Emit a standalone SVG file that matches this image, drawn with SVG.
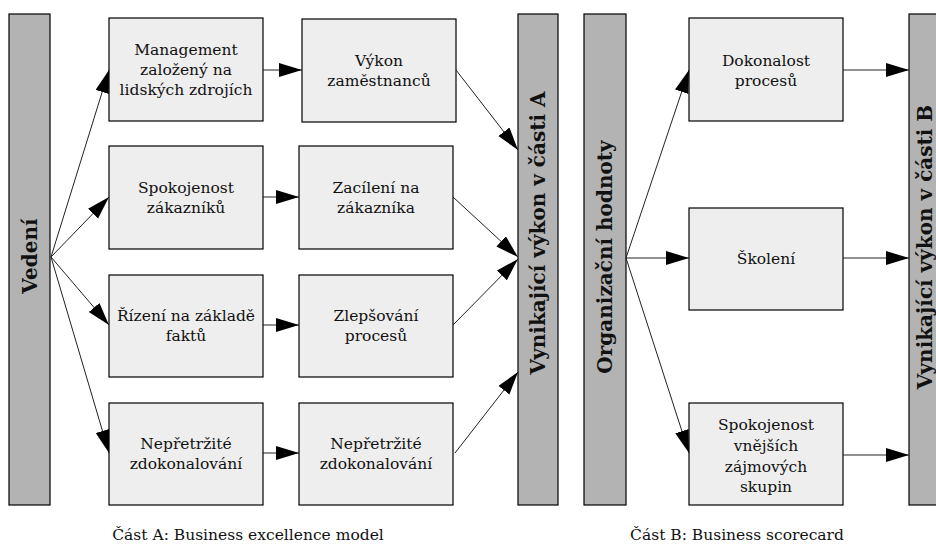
<svg xmlns="http://www.w3.org/2000/svg" width="936" height="546" viewBox="0 0 936 546">
  <style>
    .bar { fill: #b3b3b3; stroke: #000; stroke-width: 1.2; }
    .box { fill: #eeeeee; stroke: #000; stroke-width: 1.2; }
    .bt { font-family: "DejaVu Serif", "Liberation Serif", serif; font-size: 15.5px; fill: #111; text-anchor: middle; }
    .vt { font-family: "DejaVu Serif", "Liberation Serif", serif; font-size: 20px; font-weight: bold; fill: #111; text-anchor: middle; }
    .cap { font-family: "DejaVu Serif", "Liberation Serif", serif; font-size: 15.5px; fill: #111; text-anchor: middle; }
    .con line { stroke: #222; stroke-width: 1; fill: none; marker-end: url(#ah); }
  </style>
  <defs>
    <marker id="ah" markerUnits="userSpaceOnUse" markerWidth="24" markerHeight="16" refX="23" refY="7" orient="auto">
      <path d="M0,0 L23,7 L0,14 Z" fill="#000"/>
    </marker>
  </defs>
  <rect width="936" height="546" fill="#fff"/>

  <!-- Part A -->
  <g id="vedeni">
    <rect class="bar" x="9" y="14" width="41" height="491"/>
    <text class="vt" transform="translate(37,256) rotate(-90)">Vedení</text>
  </g>

  <g id="a1">
    <rect class="box" x="109" y="18" width="154" height="103"/>
    <text class="bt" x="186" y="55">Management</text>
    <text class="bt" x="186" y="75">založený na</text>
    <text class="bt" x="186" y="95">lidských zdrojích</text>
  </g>
  <g id="a2">
    <rect class="box" x="109" y="146" width="154" height="103"/>
    <text class="bt" x="186" y="193">Spokojenost</text>
    <text class="bt" x="186" y="213">zákazníků</text>
  </g>
  <g id="a3">
    <rect class="box" x="109" y="275" width="154" height="102"/>
    <text class="bt" x="186" y="321">Řízení na základě</text>
    <text class="bt" x="186" y="341">faktů</text>
  </g>
  <g id="a4">
    <rect class="box" x="109" y="403" width="154" height="102"/>
    <text class="bt" x="186" y="449">Nepřetržité</text>
    <text class="bt" x="186" y="469">zdokonalování</text>
  </g>

  <g id="b1">
    <rect class="box" x="302" y="19" width="154" height="103"/>
    <text class="bt" x="379" y="66">Výkon</text>
    <text class="bt" x="379" y="86">zaměstnanců</text>
  </g>
  <g id="b2">
    <rect class="box" x="299" y="146" width="154" height="103"/>
    <text class="bt" x="376" y="193">Zacílení na</text>
    <text class="bt" x="376" y="213">zákazníka</text>
  </g>
  <g id="b3">
    <rect class="box" x="299" y="275" width="154" height="102"/>
    <text class="bt" x="376" y="321">Zlepšování</text>
    <text class="bt" x="376" y="341">procesů</text>
  </g>
  <g id="b4">
    <rect class="box" x="299" y="403" width="154" height="102"/>
    <text class="bt" x="376" y="449">Nepřetržité</text>
    <text class="bt" x="376" y="469">zdokonalování</text>
  </g>

  <g id="vysledekA">
    <rect class="bar" x="518" y="14" width="40" height="491"/>
    <text class="vt" transform="translate(545,233) rotate(-90)">Vynikající výkon v části A</text>
  </g>

  <!-- Part B -->
  <g id="hodnoty">
    <rect class="bar" x="584" y="14" width="42" height="491"/>
    <text class="vt" transform="translate(612,257) rotate(-90)">Organizační hodnoty</text>
  </g>
  <g id="c1">
    <rect class="box" x="689" y="18" width="154" height="103"/>
    <text class="bt" x="766" y="66">Dokonalost</text>
    <text class="bt" x="766" y="86">procesů</text>
  </g>
  <g id="c2">
    <rect class="box" x="689" y="208" width="154" height="102"/>
    <text class="bt" x="766" y="264">Školení</text>
  </g>
  <g id="c3">
    <rect class="box" x="689" y="403" width="154" height="102"/>
    <text class="bt" x="766" y="430">Spokojenost</text>
    <text class="bt" x="766" y="451">vnějších</text>
    <text class="bt" x="766" y="472">zájmových</text>
    <text class="bt" x="766" y="492">skupin</text>
  </g>
  <g id="vysledekB">
    <rect class="bar" x="909" y="14" width="45" height="491"/>
    <text class="vt" transform="translate(932,247) rotate(-90)">Vynikající výkon v části B</text>
  </g>

  <!-- connectors -->
  <g id="connectors" class="con">
    <line x1="51" y1="257" x2="109" y2="70"/>
    <line x1="51" y1="257" x2="109" y2="197"/>
    <line x1="51" y1="257" x2="109" y2="325"/>
    <line x1="51" y1="257" x2="109" y2="453"/>

    <line x1="263" y1="70" x2="302" y2="70"/>
    <line x1="263" y1="197" x2="299" y2="197"/>
    <line x1="263" y1="325" x2="299" y2="325"/>
    <line x1="263" y1="453" x2="299" y2="453"/>

    <line x1="456" y1="70" x2="518" y2="150"/>
    <line x1="453" y1="197" x2="518" y2="257"/>
    <line x1="453" y1="325" x2="518" y2="259"/>
    <line x1="455" y1="453" x2="518" y2="372"/>

    <line x1="626" y1="258" x2="689" y2="70"/>
    <line x1="626" y1="258" x2="689" y2="258"/>
    <line x1="626" y1="258" x2="689" y2="453"/>

    <line x1="843" y1="70" x2="909" y2="70"/>
    <line x1="843" y1="258" x2="909" y2="258"/>
    <line x1="843" y1="455" x2="909" y2="455"/>
  </g>

  <text class="cap" x="248" y="540">Část A: Business excellence model</text>
  <text class="cap" x="737" y="540">Část B: Business scorecard</text>
</svg>
